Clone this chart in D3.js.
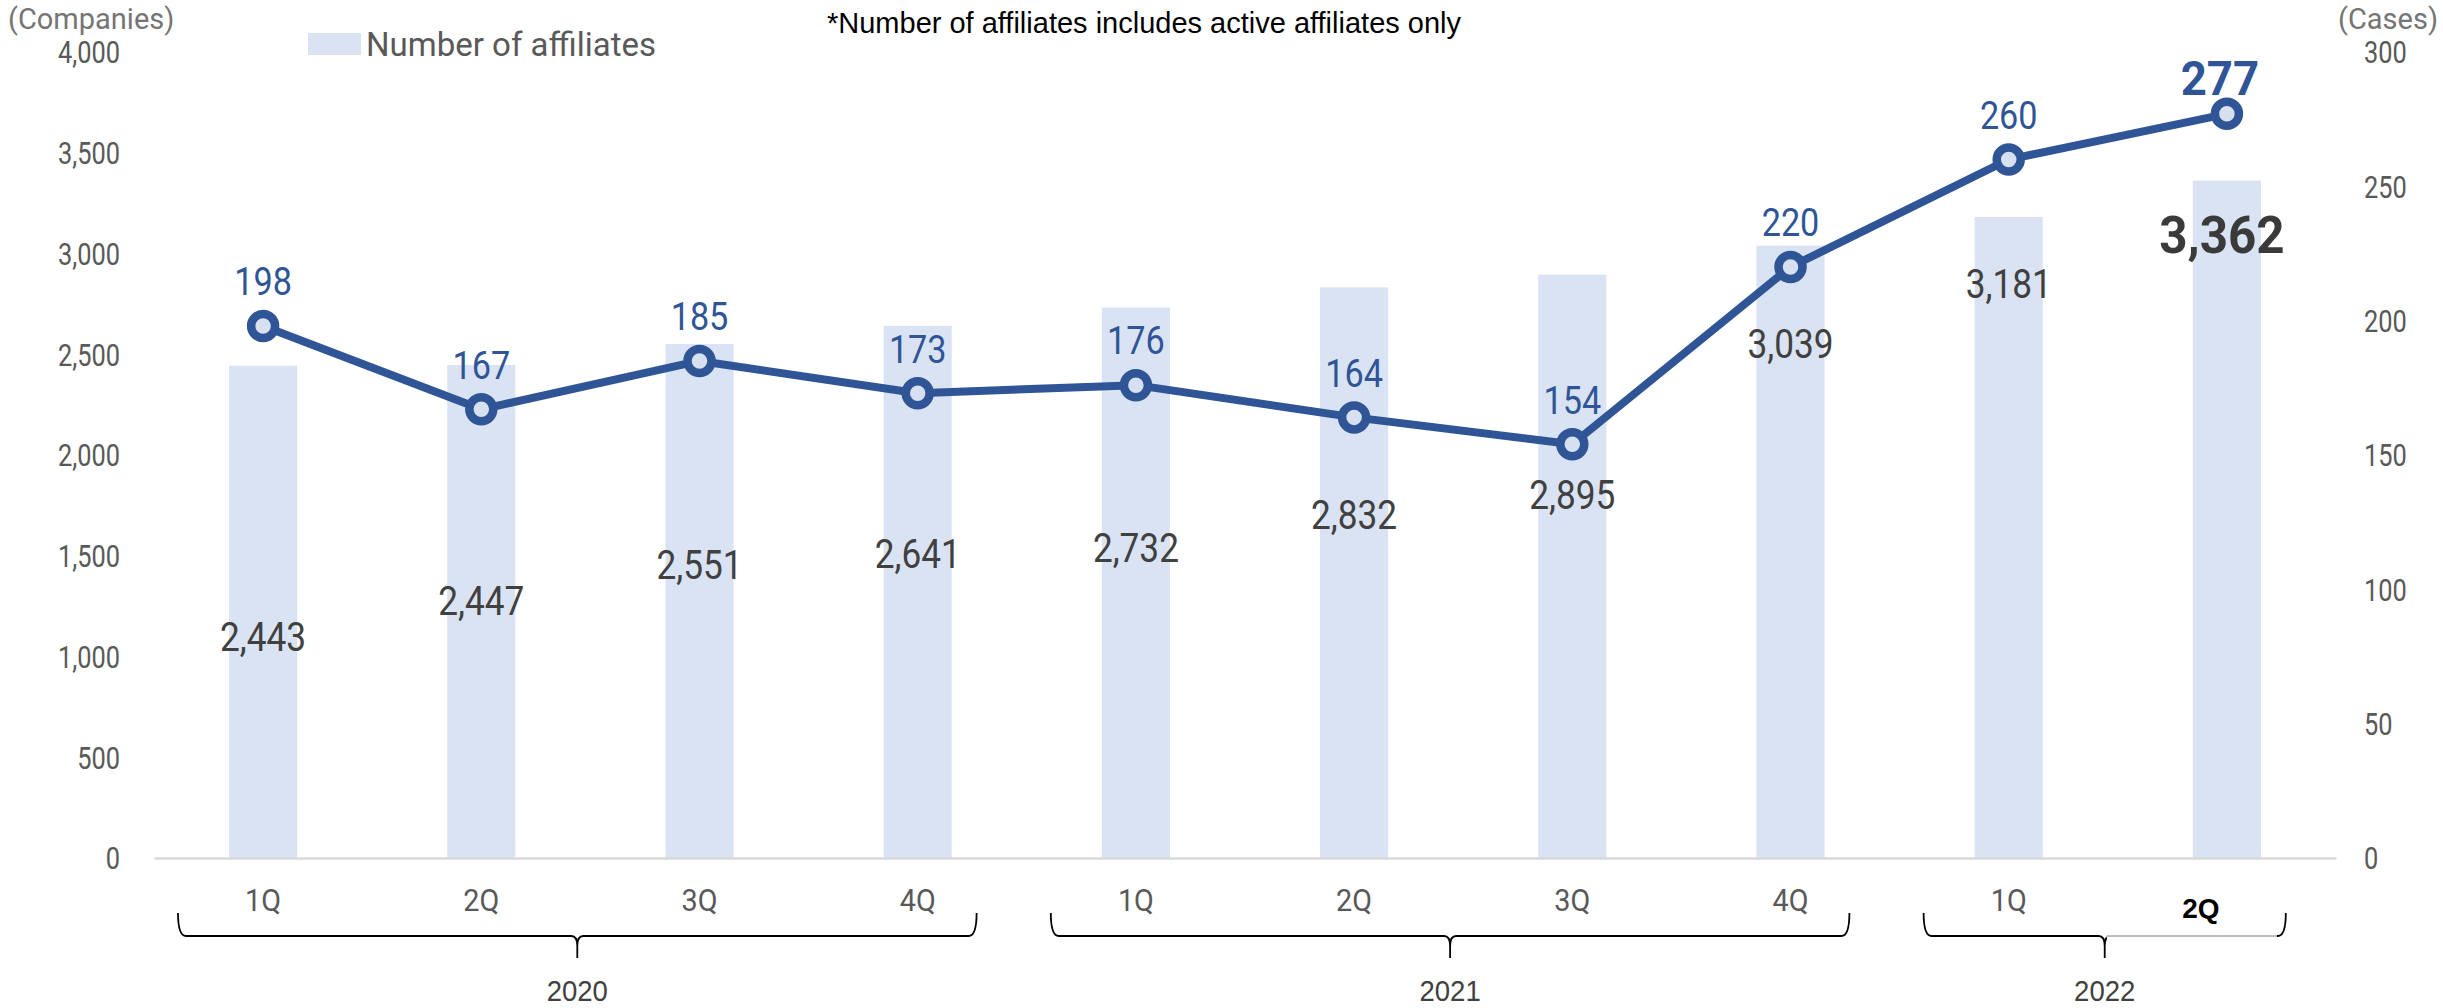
<!DOCTYPE html>
<html>
<head>
<meta charset="utf-8">
<script src="https://cdn.jsdelivr.net/npm/d3@7"></script>
<style>
  body { margin: 0; background: #fff; }
</style>
</head>
<body>
<div id="chart"></div>
<script>
// data
const years = ["2020", "2020", "2020", "2020", "2021", "2021", "2021", "2021", "2022", "2022"];
const quarters = ["1Q", "2Q", "3Q", "4Q", "1Q", "2Q", "3Q", "4Q", "1Q", "2Q"];
const affiliates = [2443, 2447, 2551, 2641, 2732, 2832, 2895, 3039, 3181, 3362];
const cases = [198, 167, 185, 173, 176, 164, 154, 220, 260, 277];
const leftTicks = [0, 500, 1000, 1500, 2000, 2500, 3000, 3500, 4000];
const rightTicks = [0, 50, 100, 150, 200, 250, 300];

// bar labels were placed by hand in the original, heights in companies
const barLabelAt = [1099, 1277, 1455, 1509, 1540, 1702, 1803, 2553, 2847, 3095];

const width = 2443;
const height = 1008;
const margin = { top: 52, left: 154, bottom: 858, right: 2336 };

const blue = "#2f5597";
const barFill = "#dae3f3";

const svg = d3
  .select("#chart")
  .append("svg")
  .attr("width", width)
  .attr("height", height);

const ids = quarters.map((q, i) => years[i] + " " + q);
const last = ids.length - 1;

const x = d3
  .scaleBand()
  .domain(ids)
  .range([margin.left, margin.right])
  .paddingInner(0.688)
  .paddingOuter(0.344);

const yL = d3.scaleLinear().domain([0, 4000]).range([margin.bottom, margin.top]);
const yR = d3.scaleLinear().domain([0, 300]).range([margin.bottom, margin.top]);

const cx = (i) => x(ids[i]) + x.bandwidth() / 2;
const fmt = d3.format(",");

// text with a horizontal squeeze, the original font is narrow
const label = (g, px, py, s, o) =>
  g
    .append("text")
    .attr("transform", `translate(${px},${py}) scale(${o.sx || 1},1)`)
    .attr("dy", "0.35em")
    .attr("text-anchor", o.anchor || "middle")
    .attr("font-family", o.family || "Roboto, sans-serif")
    .attr("font-size", o.size)
    .attr("font-weight", o.weight || "normal")
    .attr("fill", o.fill)
    .text(s);

// bars
svg
  .selectAll("rect.bar")
  .data(affiliates)
  .join("rect")
  .attr("class", "bar")
  .attr("x", (d, i) => x(ids[i]))
  .attr("y", (d) => yL(d))
  .attr("width", x.bandwidth())
  .attr("height", (d) => yL(0) - yL(d))
  .attr("fill", barFill);

// x axis (the latest quarter gets its own bold label below)
svg
  .append("g")
  .attr("transform", `translate(0,${margin.bottom})`)
  .call(
    d3
      .axisBottom(x)
      .tickFormat((d, i) => (i === last ? "" : quarters[i]))
      .tickSize(0)
      .tickSizeOuter(0)
      .tickPadding(30)
  )
  .call((g) => g.select(".domain").attr("stroke", "#d9d9d9").attr("stroke-width", 2.5))
  .call((g) =>
    g
      .selectAll("text")
      .attr("transform", "scale(0.9,1)")
      .attr("font-family", "Roboto, sans-serif")
      .attr("font-size", 32)
      .attr("fill", "#595959")
  );

// left axis
svg
  .append("g")
  .attr("transform", "translate(120,0)")
  .call(d3.axisLeft(yL).tickValues(leftTicks).tickFormat(fmt).tickSize(0).tickPadding(0))
  .call((g) => g.select(".domain").remove())
  .call((g) =>
    g
      .selectAll("text")
      .attr("x", 0)
      .attr("dy", "0.35em")
      .attr("transform", "scale(0.82,1)")
      .attr("font-family", "Roboto, sans-serif")
      .attr("font-size", 31)
      .attr("fill", "#595959")
  );

// right axis
svg
  .append("g")
  .attr("transform", "translate(2364,0)")
  .call(d3.axisRight(yR).tickValues(rightTicks).tickSize(0).tickPadding(0))
  .call((g) => g.select(".domain").remove())
  .call((g) =>
    g
      .selectAll("text")
      .attr("x", 0)
      .attr("dy", "0.35em")
      .attr("transform", "scale(0.82,1)")
      .attr("font-family", "Roboto, sans-serif")
      .attr("font-size", 31)
      .attr("fill", "#595959")
  );

// line + markers
const line = d3
  .line()
  .x((d, i) => cx(i))
  .y((d) => yR(d));

svg
  .append("path")
  .datum(cases)
  .attr("d", line)
  .attr("fill", "none")
  .attr("stroke", blue)
  .attr("stroke-width", 8)
  .attr("stroke-linejoin", "round");

svg
  .selectAll("circle.pt")
  .data(cases)
  .join("circle")
  .attr("class", "pt")
  .attr("cx", (d, i) => cx(i))
  .attr("cy", (d) => yR(d))
  .attr("r", 12)
  .attr("fill", "#d6e0f1")
  .attr("stroke", blue)
  .attr("stroke-width", 8.5);

// data labels
affiliates.forEach((d, i) => {
  const big = i === last;
  label(svg, cx(i) - (big ? 5 : 0), yL(barLabelAt[i]), fmt(d), {
    size: big ? 52 : 40,
    sx: big ? 0.95 : 0.88,
    weight: big ? "bold" : "normal",
    fill: big ? "#3a3a3a" : "#404040",
  });
});

cases.forEach((d, i) => {
  const big = i === last;
  label(svg, cx(i) - (big ? 7 : 0), yR(d) - (big ? 36 : 44), d, {
    size: big ? 48 : 38,
    sx: big ? 0.95 : 0.9,
    weight: big ? "bold" : "normal",
    fill: blue,
  });
});

// year brackets
const step = x.step();
const groups = d3.groups(d3.range(ids.length), (i) => years[i]);
const yTop = 913;
const yLine = 936;
const yTip = 958;

groups.forEach(([year, idx]) => {
  const x0 = cx(idx[0]) - 0.39 * step;
  const x1 = cx(idx[idx.length - 1]) + 0.27 * step;
  const mid = (x0 + x1) / 2;
  svg
    .append("path")
    .attr(
      "d",
      `M${x0},${yTop} Q${x0},${yLine} ${x0 + 8},${yLine} H${mid - 6} Q${mid},${yLine} ${mid},${yLine + 10} V${yTip}` +
        ` M${mid},${yLine + 10} Q${mid},${yLine} ${mid + 6},${yLine} H${x1 - 8} Q${x1},${yLine} ${x1},${yTop}`
    )
    .attr("fill", "none")
    .attr("stroke", "#000")
    .attr("stroke-width", 1.8);

  label(svg, mid, 991, year, {
    size: 29,
    family: "'Liberation Sans', Arial, sans-serif",
    fill: "#404040",
    sx: 0.95,
  });
});

// the latest quarter sits in a white box with a bold label
const lx = cx(last);
svg
  .append("rect")
  .attr("x", lx - 120)
  .attr("y", 876)
  .attr("width", 170)
  .attr("height", 63)
  .attr("fill", "#fff");
svg
  .append("line")
  .attr("x1", lx - 120)
  .attr("x2", lx + 50)
  .attr("y1", yLine)
  .attr("y2", yLine)
  .attr("stroke", "#a6a6a6")
  .attr("stroke-width", 1.5);
label(svg, lx - 26, 908, quarters[last], {
  size: 28,
  weight: "bold",
  family: "'Liberation Sans', Arial, sans-serif",
  fill: "#000",
});

// legend
svg
  .append("rect")
  .attr("x", 308)
  .attr("y", 33)
  .attr("width", 53)
  .attr("height", 22)
  .attr("fill", barFill);
label(svg, 366, 44, "Number of affiliates", {
  size: 33,
  anchor: "start",
  fill: "#595959",
});

// unit captions and note
label(svg, 8, 19, "(Companies)", { size: 29, anchor: "start", fill: "#757575" });
label(svg, 2438, 19, "(Cases)", { size: 29, anchor: "end", fill: "#757575" });
label(svg, 1144, 23, "*Number of affiliates includes active affiliates only", {
  size: 29,
  family: "'Liberation Sans', Arial, sans-serif",
  fill: "#000",
});
</script>
</body>
</html>
